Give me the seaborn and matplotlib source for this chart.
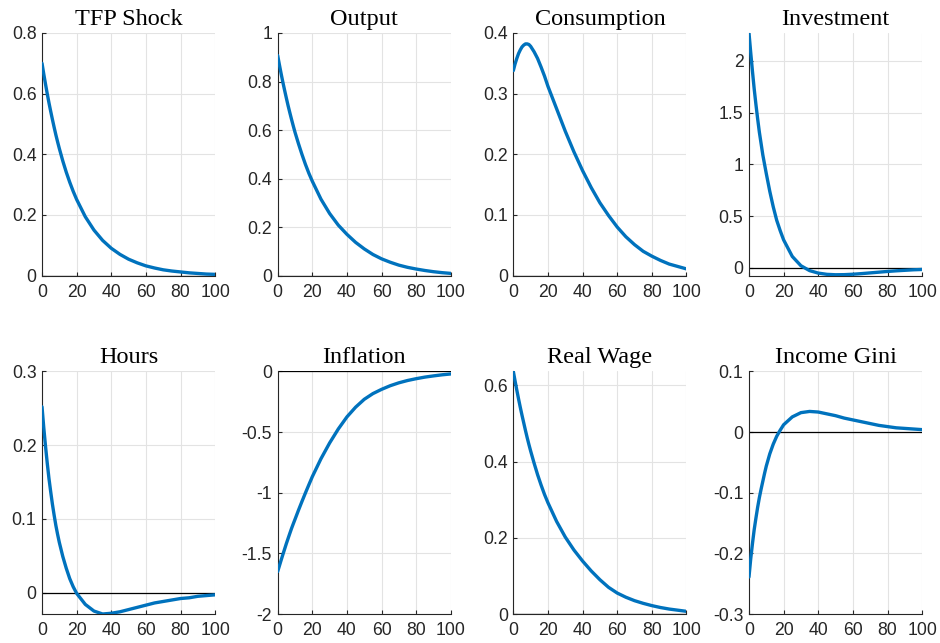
import matplotlib
matplotlib.use("Agg")
import matplotlib.pyplot as plt
import seaborn as sns
import pandas as pd
from matplotlib.ticker import FuncFormatter

# ---- data ----
periods = [0, 1, 2, 3, 4, 5, 6, 7, 8, 9, 10, 12, 14, 16, 18, 20,
           25, 30, 35, 40, 45, 50, 55, 60, 65, 70, 75, 80, 85, 90, 95, 100]

tfp_shock = [0.700, 0.665, 0.632, 0.600, 0.570, 0.542, 0.515, 0.489, 0.464, 0.441, 0.419,
             0.378, 0.341, 0.308, 0.278, 0.251,
             0.194, 0.150, 0.116, 0.090, 0.070, 0.054, 0.042, 0.032, 0.025, 0.019,
             0.015, 0.012, 0.009, 0.007, 0.005, 0.004]
output = [0.907, 0.869, 0.832, 0.797, 0.764, 0.732, 0.701, 0.672, 0.644, 0.617, 0.591,
          0.544, 0.500, 0.459, 0.422, 0.389,
          0.315, 0.256, 0.208, 0.170, 0.137, 0.110, 0.087, 0.069, 0.055, 0.043,
          0.034, 0.027, 0.021, 0.016, 0.012, 0.009]
consumption = [0.338, 0.349, 0.358, 0.366, 0.372, 0.377, 0.380, 0.382, 0.382, 0.381, 0.378,
               0.369, 0.358, 0.344, 0.329, 0.312,
               0.275, 0.238, 0.204, 0.173, 0.145, 0.120, 0.099, 0.080, 0.064, 0.051,
               0.040, 0.032, 0.025, 0.019, 0.015, 0.011]
investment = [2.27, 2.08, 1.90, 1.73, 1.58, 1.44, 1.31, 1.20, 1.09, 1.00, 0.91,
              0.74, 0.59, 0.46, 0.36, 0.27,
              0.11, 0.02, -0.027, -0.051, -0.063, -0.067, -0.066, -0.062, -0.056, -0.049,
              -0.042, -0.035, -0.029, -0.024, -0.019, -0.016]
hours = [0.252, 0.224, 0.199, 0.176, 0.155, 0.137, 0.120, 0.105, 0.091, 0.079, 0.068,
         0.049, 0.033, 0.019, 0.008, -0.001,
         -0.016, -0.025, -0.029, -0.028, -0.026, -0.023, -0.020, -0.017, -0.014, -0.012,
         -0.010, -0.008, -0.007, -0.005, -0.004, -0.003]
inflation = [-1.650, -1.603, -1.556, -1.510, -1.465, -1.420, -1.378, -1.336, -1.295, -1.257, -1.220,
             -1.145, -1.073, -1.003, -0.935, -0.868,
             -0.720, -0.590, -0.475, -0.375, -0.295, -0.230, -0.183, -0.148, -0.118, -0.094,
             -0.075, -0.060, -0.047, -0.037, -0.028, -0.021]
real_wage = [0.637, 0.612, 0.588, 0.565, 0.543, 0.522, 0.502, 0.482, 0.463, 0.445, 0.428,
             0.396, 0.366, 0.339, 0.314, 0.292,
             0.243, 0.202, 0.168, 0.139, 0.113, 0.090, 0.070, 0.055, 0.044, 0.035,
             0.028, 0.022, 0.017, 0.013, 0.010, 0.007]
income_gini = [-0.239, -0.209, -0.184, -0.161, -0.142, -0.124, -0.108, -0.094, -0.081, -0.068, -0.056,
               -0.036, -0.020, -0.007, 0.003, 0.012,
               0.025, 0.032, 0.034, 0.033, 0.030, 0.027, 0.023, 0.020, 0.017, 0.014,
               0.011, 0.009, 0.007, 0.006, 0.005, 0.004]

titles = ["TFP Shock", "Output", "Consumption", "Investment",
          "Hours", "Inflation", "Real Wage", "Income Gini"]
series = [tfp_shock, output, consumption, investment,
          hours, inflation, real_wage, income_gini]
y_limits = [(0, 0.8), (0, 1), (0, 0.4), (-0.075, 2.27),
            (-0.029, 0.3), (-2, 0), (0, 0.637), (-0.3, 0.1)]
y_ticks = [[0, 0.2, 0.4, 0.6, 0.8], [0, 0.2, 0.4, 0.6, 0.8, 1], [0, 0.1, 0.2, 0.3, 0.4],
           [0, 0.5, 1, 1.5, 2], [0, 0.1, 0.2, 0.3], [-2, -1.5, -1, -0.5, 0],
           [0, 0.2, 0.4, 0.6], [-0.3, -0.2, -0.1, 0, 0.1]]
x_ticks = [0, 20, 40, 60, 80, 100]

# ---- style ----
sns.set_theme(style="whitegrid")
plt.rcParams["font.family"] = ["Liberation Sans", "DejaVu Sans"]

fig, axes = plt.subplots(2, 4, figsize=(9.4, 6.43), dpi=100)
fig.subplots_adjust(left=0.0447, right=0.981, top=0.9487, bottom=0.0451,
                    wspace=0.361, hspace=0.395)

line_color = "#0072BD"
axis_color = "#262626"
fmt = FuncFormatter(lambda v, p: ("%g" % round(v, 4)))

for ax, title, vals, ylim, yt in zip(axes.flat, titles, series, y_limits, y_ticks):
    df = pd.DataFrame({"t": periods, "v": vals})
    ax.axhline(0, color="black", lw=0.9, zorder=2)
    sns.lineplot(data=df, x="t", y="v", ax=ax, color=line_color, lw=2.4, zorder=3)
    ax.set_xlim(0, 100)
    ax.set_ylim(*ylim)
    ax.set_xticks(x_ticks)
    ax.set_yticks(yt)
    ax.yaxis.set_major_formatter(fmt)
    ax.set_xlabel("")
    ax.set_ylabel("")
    ax.set_title(title, fontsize=17.5, family="Liberation Serif", color="black", pad=6)
    ax.set_facecolor("white")
    ax.grid(True, color="#E3E3E3", lw=0.8)
    for s in ["top", "right"]:
        ax.spines[s].set_visible(False)
    for s in ["left", "bottom"]:
        ax.spines[s].set_visible(True)
        ax.spines[s].set_color(axis_color)
        ax.spines[s].set_linewidth(0.8)
    ax.tick_params(axis="both", which="major", direction="in", length=3,
                   width=0.8, color=axis_color, labelsize=12.7,
                   labelcolor=axis_color, left=True, bottom=True)
    ax.tick_params(axis="x", pad=6)
    ax.tick_params(axis="y", pad=4)

fig.savefig("out.png", dpi=100, facecolor="white")
